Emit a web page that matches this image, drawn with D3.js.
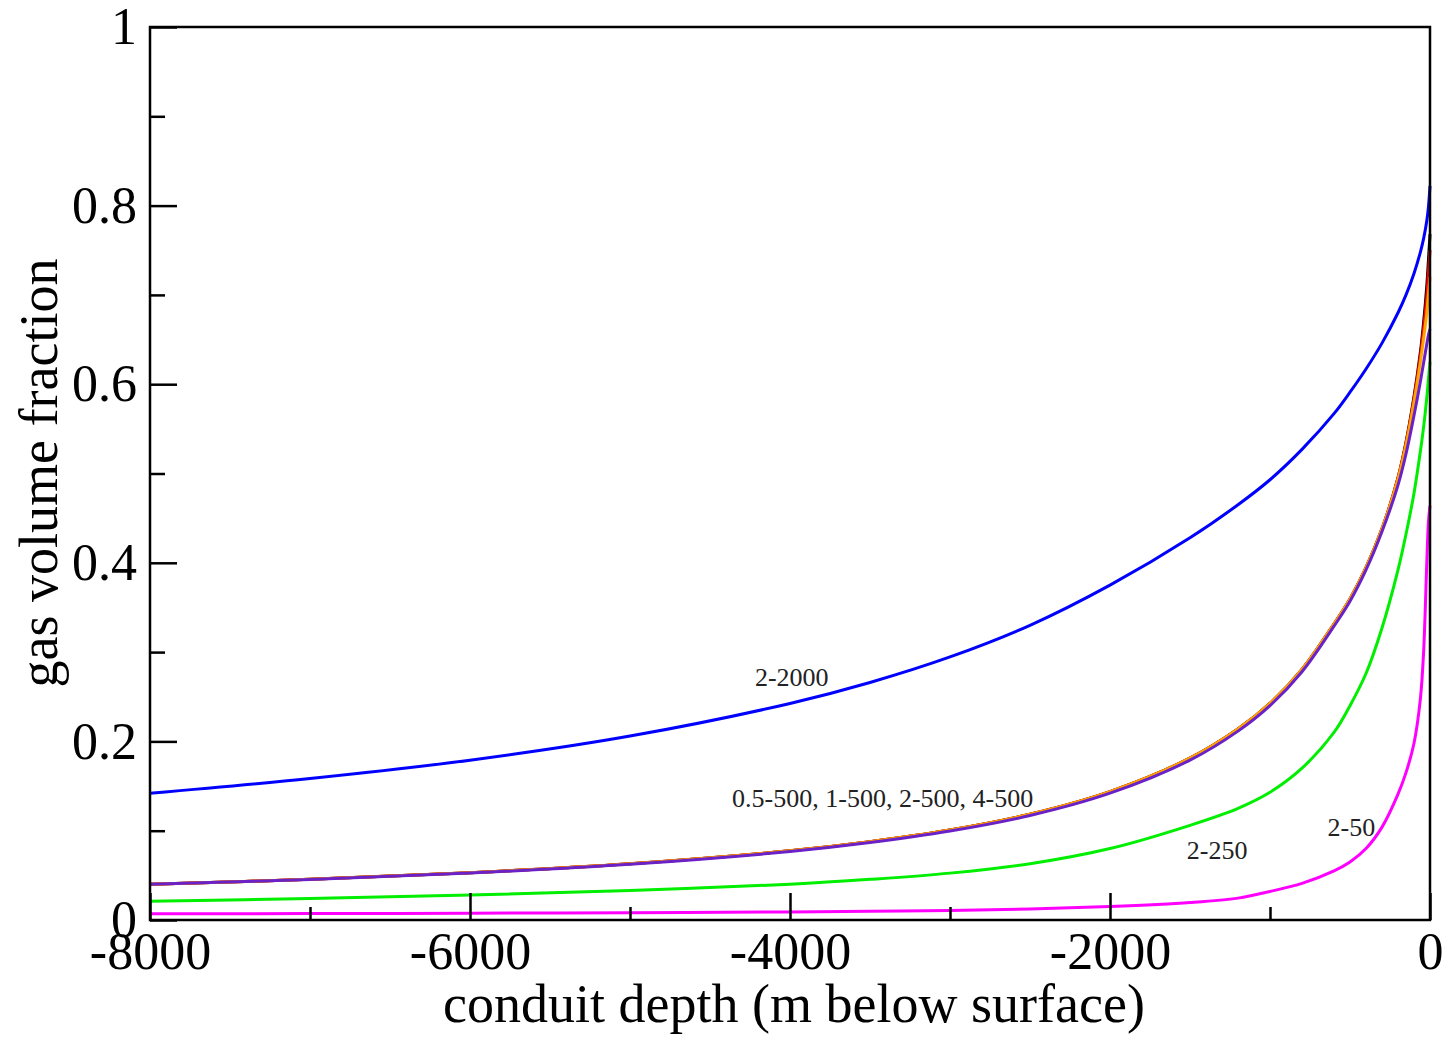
<!DOCTYPE html>
<html>
<head>
<meta charset="utf-8">
<script src="https://cdn.jsdelivr.net/npm/d3@7"></script>
<style>
  html, body { margin: 0; padding: 0; background: #fff; }
  svg { display: block; }
</style>
</head>
<body>
<svg id="chart" width="1454" height="1040"></svg>
<script>
// Conduit depth (m, negative below surface)
const depth = [-8000, -7000, -6000, -5000, -4000, -3500, -3000, -2500, -2000, -1500, -1200, -1000,
               -800, -600, -500, -400, -300, -200, -150, -100, -60, -40, -20, -10, 0];

// Gas volume fraction for each run
const s2_2000 = [0.142, 0.1585, 0.179, 0.206, 0.2425, 0.266, 0.2946, 0.330, 0.375, 0.428, 0.465, 0.493,
                 0.527, 0.567, 0.591, 0.617, 0.646, 0.680, 0.700, 0.724, 0.748, 0.763, 0.783, 0.798, 0.822];
const s05_500 = [0.040, 0.0456, 0.0530, 0.0630, 0.0775, 0.0877, 0.1008, 0.1185, 0.1438, 0.1812, 0.2138, 0.2425,
                 0.2805, 0.3315, 0.3595, 0.3945, 0.438, 0.495, 0.535, 0.586, 0.636, 0.669, 0.710, 0.738, 0.768];
const s1_500  = [0.040, 0.0456, 0.0530, 0.0630, 0.0775, 0.0877, 0.1008, 0.1185, 0.1438, 0.1812, 0.2138, 0.2425,
                 0.2805, 0.3315, 0.3595, 0.3945, 0.438, 0.495, 0.534, 0.584, 0.632, 0.662, 0.698, 0.724, 0.750];
const s2_500  = [0.040, 0.0456, 0.0530, 0.0630, 0.0775, 0.0877, 0.1008, 0.1185, 0.1438, 0.1812, 0.2138, 0.2425,
                 0.2805, 0.3315, 0.3595, 0.3945, 0.438, 0.494, 0.532, 0.580, 0.625, 0.651, 0.680, 0.700, 0.720];
const s4_500  = [0.040, 0.0454, 0.0526, 0.0624, 0.0767, 0.0867, 0.0996, 0.117, 0.142, 0.179, 0.2115, 0.240,
                 0.278, 0.329, 0.357, 0.392, 0.435, 0.487, 0.522, 0.565, 0.603, 0.624, 0.645, 0.655, 0.662];
const s2_250  = [0.021, 0.024, 0.028, 0.033, 0.040, 0.0455, 0.0525, 0.063, 0.080, 0.106, 0.125, 0.143,
                 0.170, 0.210, 0.240, 0.276, 0.327, 0.392, 0.432, 0.478, 0.525, 0.552, 0.585, 0.605, 0.625];
const s2_50   = [0.007, 0.0072, 0.0076, 0.0082, 0.009, 0.0097, 0.0106, 0.0122, 0.015, 0.0195, 0.0245, 0.032,
                 0.041, 0.055, 0.065, 0.080, 0.104, 0.141, 0.165, 0.198, 0.248, 0.300, 0.400, 0.445, 0.464];

const seriesNames  = ["2-50", "2-250", "0.5-500", "1-500", "2-500", "4-500", "2-2000"];
const seriesValues = [s2_50, s2_250, s05_500, s1_500, s2_500, s4_500, s2_2000];
const seriesColors = ["#ff00ff", "#00ee00", "#000000", "#ff0000", "#ffa500", "#6a22c8", "#0000ff"];

const xMajor = [-8000, -6000, -4000, -2000, 0];
const xMinor = [-7000, -5000, -3000, -1000];
const yMajor = [0, 0.2, 0.4, 0.6, 0.8, 1];
const yMinor = [0.1, 0.3, 0.5, 0.7, 0.9];

// Curve annotations: text, depth, fraction at baseline-left
const notes = [
  { text: "2-2000", x: -4219, y: 0.262 },
  { text: "0.5-500, 1-500, 2-500, 4-500", x: -4362, y: 0.127 },
  { text: "2-250", x: -1520, y: 0.068 },
  { text: "2-50", x: -640, y: 0.094 }
];

const svg = d3.select("#chart");
const L = 150, R = 1430, T = 27, B = 920;
const x = d3.scaleLinear().domain([-8000, 0]).range([L, R]);
const y = d3.scaleLinear().domain([0, 1]).range([B, T]);
const font = "'Liberation Serif', 'Times New Roman', serif";

// Curves (centripetal Catmull-Rom through the sampled depths)
const line = d3.line().x(d => x(d[0])).y(d => y(d[1])).curve(d3.curveCatmullRom.alpha(0.5));
const g = svg.append("g");
seriesValues.forEach((vals, i) => {
  g.append("path")
    .datum(depth.map((d, j) => [d, vals[j]]))
    .attr("fill", "none")
    .attr("stroke", seriesColors[i])
    .attr("stroke-width", 3)
    .attr("stroke-linejoin", "round")
    .attr("d", line);
});

// Axes with inward ticks
function styleAxis(sel) {
  sel.select(".domain").remove();
  sel.selectAll(".tick line").attr("stroke", "#000").attr("stroke-width", 2.5);
  sel.selectAll(".tick text").attr("font-family", font).attr("font-size", 52).attr("fill", "#000");
}
svg.append("g").attr("transform", `translate(0,${B})`)
  .call(d3.axisBottom(x).tickValues(xMajor).tickSize(-27).tickPadding(12).tickFormat(d => String(d)))
  .call(styleAxis);
svg.append("g").attr("transform", `translate(0,${B})`)
  .call(d3.axisBottom(x).tickValues(xMinor).tickSize(-13).tickFormat(""))
  .call(styleAxis);
svg.append("g").attr("transform", `translate(${L},0)`)
  .call(d3.axisLeft(y).tickValues(yMajor).tickSize(-27).tickPadding(13).tickFormat(d => String(d)))
  .call(styleAxis);
svg.append("g").attr("transform", `translate(${L},0)`)
  .call(d3.axisLeft(y).tickValues(yMinor).tickSize(-15).tickFormat(""))
  .call(styleAxis);

// Frame
svg.append("rect")
  .attr("x", L).attr("y", T).attr("width", R - L).attr("height", B - T)
  .attr("fill", "none").attr("stroke", "#000").attr("stroke-width", 2.5);

// Annotations
svg.append("g").selectAll("text").data(notes).join("text")
  .attr("x", d => x(d.x)).attr("y", d => y(d.y))
  .attr("font-family", font).attr("font-size", 26).attr("fill", "#222")
  .text(d => d.text);

// Axis titles
svg.append("text")
  .attr("x", (L + R) / 2 + 4).attr("y", 1022)
  .attr("text-anchor", "middle")
  .attr("font-family", font).attr("font-size", 54).attr("fill", "#000")
  .text("conduit depth (m below surface)");
svg.append("text")
  .attr("transform", "translate(57,473) rotate(-90)")
  .attr("text-anchor", "middle")
  .attr("font-family", font).attr("font-size", 54).attr("fill", "#000")
  .text("gas volume fraction");
</script>
</body>
</html>
